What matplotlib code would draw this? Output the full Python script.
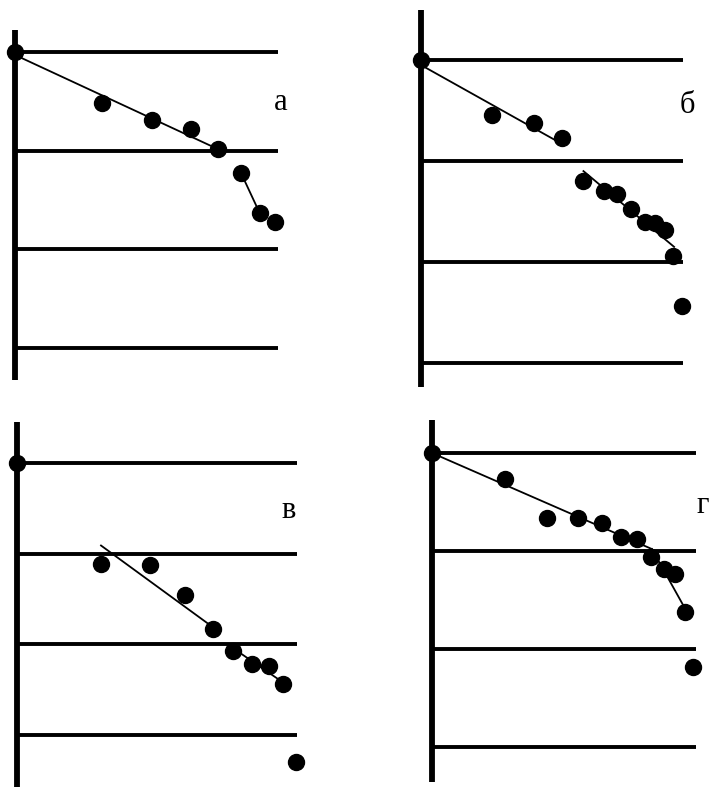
import matplotlib
matplotlib.use('Agg')
import matplotlib.pyplot as plt

# данные: x в долях длины горизонтальных линий, y в единицах шага сетки (линии на 0..3)
a_x = [0, 0.33, 0.52, 0.67, 0.77, 0.86, 0.93, 0.99]
a_y = [3.0, 2.48, 2.31, 2.22, 2.02, 1.77, 1.37, 1.28]
a_fit = [([0, 0.76], [2.97, 2.03]), ([0.86, 0.93], [1.77, 1.37])]

b_x = [0, 0.27, 0.43, 0.54, 0.62, 0.70, 0.75, 0.80, 0.855, 0.893, 0.93, 0.96, 0.996]
b_y = [3.0, 2.46, 2.38, 2.23, 1.80, 1.70, 1.67, 1.52, 1.40, 1.39, 1.32, 1.06, 0.56]
b_fit = [([0, 0.51], [2.95, 2.21]), ([0.62, 0.966], [1.90, 1.15])]

v_x = [0, 0.30, 0.475, 0.60, 0.70, 0.77, 0.84, 0.90, 0.95, 0.996]
v_y = [3.0, 1.89, 1.87, 1.54, 1.17, 0.93, 0.78, 0.76, 0.56, -0.30]
v_fit = [([0.30, 0.686], [2.09, 1.22]), ([0.78, 0.95], [0.94, 0.58])]

g_x = [0, 0.277, 0.436, 0.553, 0.644, 0.716, 0.777, 0.83, 0.879, 0.92, 0.958, 0.989]
g_y = [3.0, 2.73, 2.34, 2.34, 2.29, 2.14, 2.12, 1.94, 1.82, 1.77, 1.38, 0.82]
g_fit = [([0, 0.833], [3.0, 2.02]), ([0.833, 0.955], [2.02, 1.43])]

grid_y = [0, 1, 2, 3]
labels = ['а', 'б', 'в', 'г']

W, H = 717, 789
fig = plt.figure(figsize=(W / 100, H / 100), dpi=100)

# пиксельная разметка панелей: x0, x1 (x=0 и x=1), py0, py3 (y=0 и y=3), концы оси, позиция подписи
panels = [
    dict(x=a_x, y=a_y, fit=a_fit, px=(15, 278), py=(348, 52), ax_y=(-0.32, 3.22), lab=(0.985, 2.41)),
    dict(x=b_x, y=b_y, fit=b_fit, px=(421, 683), py=(363, 60), ax_y=(-0.24, 3.50), lab=(0.989, 2.475)),
    dict(x=v_x, y=v_y, fit=v_fit, px=(17, 297), py=(735, 463), ax_y=(-0.57, 3.45), lab=(0.946, 2.39)),
    dict(x=g_x, y=g_y, fit=g_fit, px=(432, 696), py=(747, 453), ax_y=(-0.36, 3.34), lab=(1.0, 2.39)),
]

xl, xr = -0.1, 1.1
yb, yt = -0.8, 3.6
for p, lab in zip(panels, labels):
    (x0, x1), (py0, py3) = p['px'], p['py']
    sx = x1 - x0
    sy = (py0 - py3) / 3.0
    left = (x0 + xl * sx) / W
    width = (xr - xl) * sx / W
    bottom = (H - (py0 - yb * sy)) / H
    height = (yt - yb) * sy / H
    ax = fig.add_axes([left, bottom, width, height])
    ax.set_xlim(xl, xr)
    ax.set_ylim(yb, yt)
    ax.axis('off')

    for gy in grid_y:
        ax.plot([0, 1], [gy, gy], color='black', lw=2.8, solid_capstyle='butt', zorder=1)
    ax.plot([0, 0], p['ax_y'], color='black', lw=4.2, solid_capstyle='butt', zorder=2)
    for fx, fy in p['fit']:
        ax.plot(fx, fy, color='black', lw=1.3, zorder=3)
    ax.plot(p['x'], p['y'], 'o', color='black', ms=11.5, zorder=4, clip_on=False)
    ax.text(p['lab'][0], p['lab'][1], lab, fontsize=22, family='Liberation Serif',
            ha='left', va='baseline')

fig.savefig('out.png', dpi=100, facecolor='white')
